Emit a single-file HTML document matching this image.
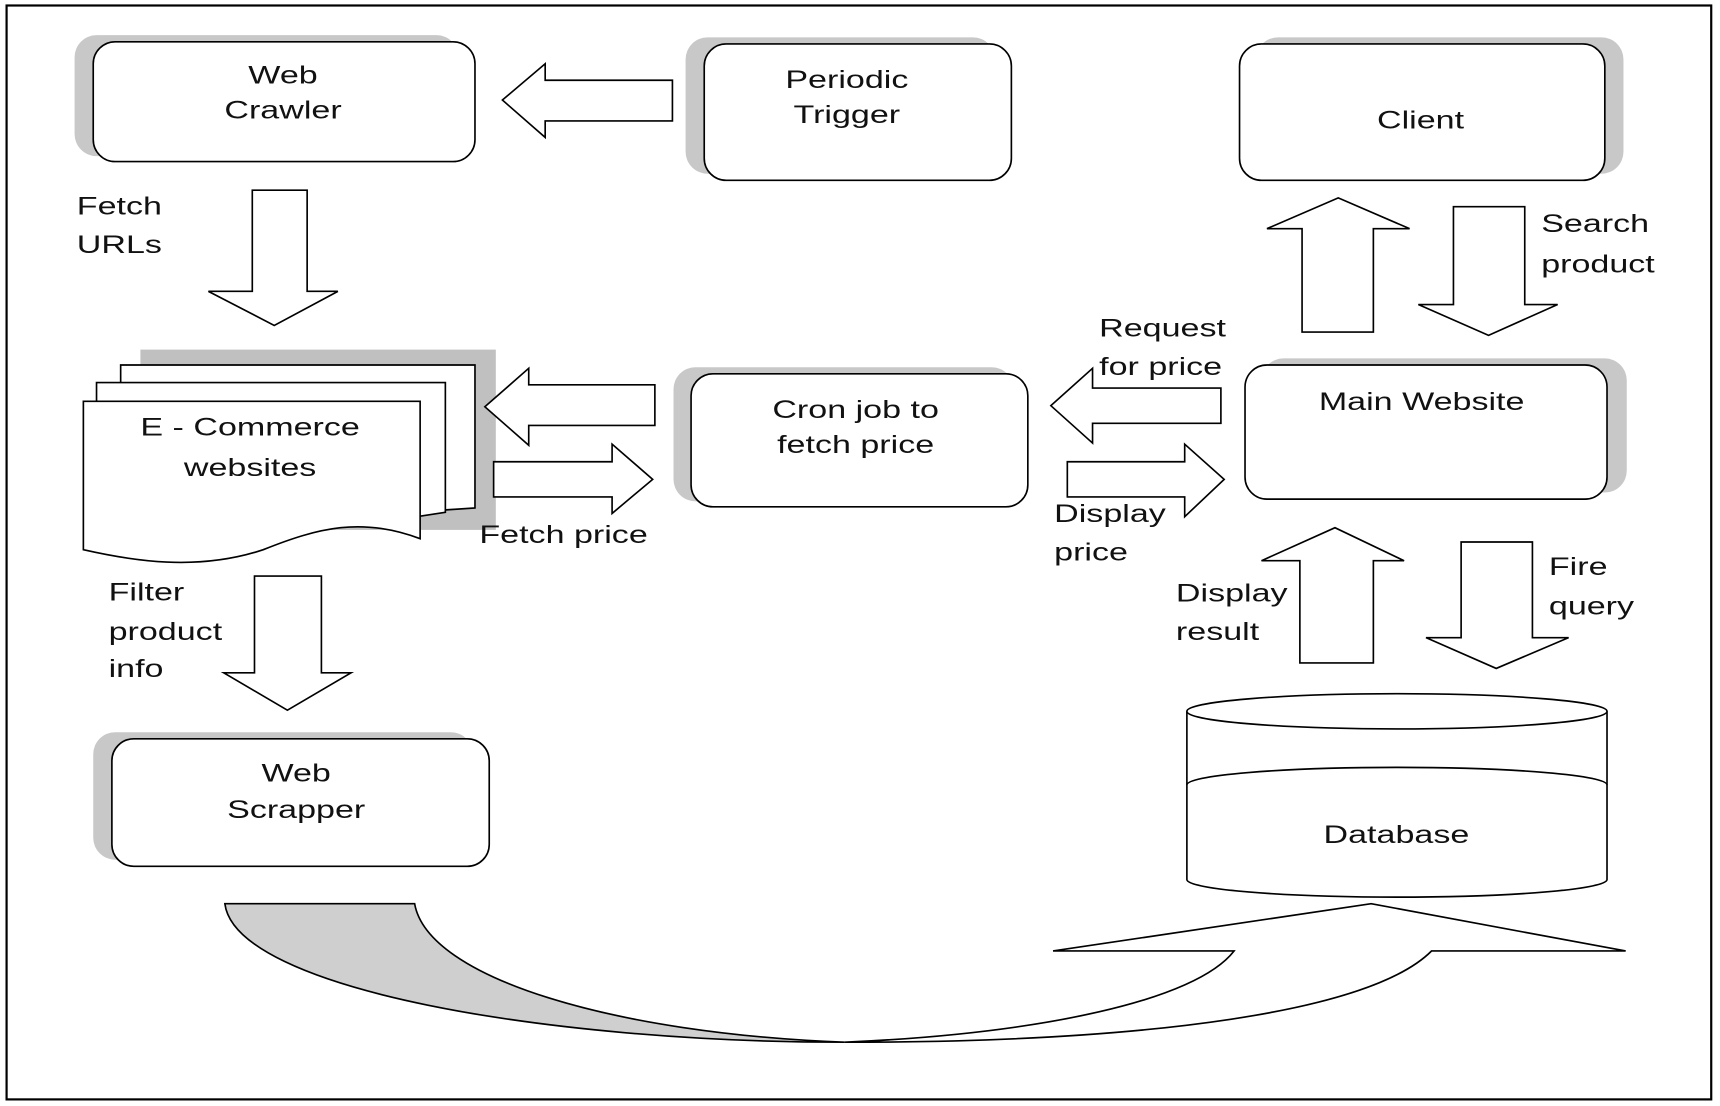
<!DOCTYPE html>
<html><head><meta charset="utf-8"><style>
html,body{margin:0;padding:0;background:#fff}
svg{display:block}
text{font-family:"Liberation Sans",sans-serif;font-size:23px;fill:#111}
</style></head><body>
<svg width="1720" height="1106" viewBox="0 0 1568 1006" preserveAspectRatio="none" xmlns="http://www.w3.org/2000/svg">
<rect x="6" y="5" width="1554" height="995" fill="#fff" stroke="#000" stroke-width="2"/>
<g stroke="#000" stroke-width="1.5" fill="#fff">
<rect x="68" y="32" width="350" height="110" rx="20" fill="#c8c8c8" stroke="none"/>
<rect x="625" y="34" width="282" height="124" rx="20" fill="#c8c8c8" stroke="none"/>
<rect x="1145" y="34" width="335" height="124" rx="20" fill="#c8c8c8" stroke="none"/>
<rect x="614" y="334" width="310" height="122" rx="20" fill="#c8c8c8" stroke="none"/>
<rect x="1150" y="326" width="333" height="122" rx="20" fill="#c8c8c8" stroke="none"/>
<rect x="85" y="666" width="346" height="116" rx="20" fill="#c8c8c8" stroke="none"/>
<rect x="128" y="318" width="324" height="164" fill="#c0c0c0" stroke="none"/>
<rect x="85" y="38" width="348" height="109" rx="20"/>
<rect x="642" y="40" width="280" height="124" rx="20"/>
<rect x="1130" y="40" width="333" height="124" rx="20"/>
<rect x="630" y="340" width="307" height="121" rx="20"/>
<rect x="1135" y="332" width="330" height="122" rx="20"/>
<rect x="102" y="672" width="344" height="116" rx="20"/>
<path d="M110,332 L433,332 L433,462 L403,464 L110,466 Z"/>
<path d="M88,348 L406,348 L406,466 L380,470 L88,472 Z"/>
<path d="M76,365 L383,365 L383,490 C330,470 290,480 240,500 C180,520 120,510 76,500 Z"/>
<path d="M613,73 L497,73 L497,58 L458,91 L497,125 L497,110 L613,110 Z"/>
<path d="M230,173 L280,173 L280,265 L308,265 L250,296 L190,265 L230,265 Z"/>
<path d="M597,350 L482,350 L482,335 L442,370 L482,405 L482,387 L597,387 Z"/>
<path d="M450,420 L558,420 L558,404 L595,436 L558,467 L558,452 L450,452 Z"/>
<path d="M1113,353 L996,353 L996,335 L958,369 L996,403 L996,385 L1113,385 Z"/>
<path d="M973,420 L1080,420 L1080,404 L1116,436 L1080,470 L1080,452 L973,452 Z"/>
<path d="M1187,302 L1187,208 L1155,208 L1220,180 L1285,208 L1252,208 L1252,302 Z"/>
<path d="M1325,188 L1390,188 L1390,277 L1420,277 L1357,305 L1293,277 L1325,277 Z"/>
<path d="M1185,603 L1185,510 L1150,510 L1217,480 L1280,510 L1252,510 L1252,603 Z"/>
<path d="M1332,493 L1397,493 L1397,580 L1430,580 L1364,608 L1300,580 L1332,580 Z"/>
<path d="M232,524 L293,524 L293,612 L320,612 L262,646 L204,612 L232,612 Z"/>
<path d="M1082,647 L1082,800 A191.5,16 0 0 0 1465,800 L1465,647"/>
<ellipse cx="1273.5" cy="647" rx="191.5" ry="16"/>
<path d="M1082,714 A191.5,16 0 0 1 1465,714"/>
<path d="M205,822 L378,822 C390,890 560,940 770,948 C500,948 215,900 205,822 Z" fill="#cfcfcf"/>
<path d="M770,948 C950,940 1090,910 1125,865 L960,865 L1250,822 L1482,865 L1305,865 C1250,920 1050,948 770,948 Z"/>
</g>
<g>
<text transform="translate(258,76) scale(1.35,1)" text-anchor="middle">Web</text>
<text transform="translate(258,108) scale(1.35,1)" text-anchor="middle">Crawler</text>
<text transform="translate(772,80) scale(1.35,1)" text-anchor="middle">Periodic</text>
<text transform="translate(772,112) scale(1.35,1)" text-anchor="middle">Trigger</text>
<text transform="translate(1295,117) scale(1.35,1)" text-anchor="middle">Client</text>
<text transform="translate(70,195) scale(1.35,1)">Fetch</text>
<text transform="translate(70,230) scale(1.35,1)">URLs</text>
<text transform="translate(1405,211) scale(1.35,1)">Search</text>
<text transform="translate(1405,248) scale(1.35,1)">product</text>
<text transform="translate(1002,306) scale(1.35,1)">Request</text>
<text transform="translate(1002,341) scale(1.35,1)">for price</text>
<text transform="translate(1296,373) scale(1.35,1)" text-anchor="middle">Main Website</text>
<text transform="translate(780,380) scale(1.35,1)" text-anchor="middle">Cron job to</text>
<text transform="translate(780,412) scale(1.35,1)" text-anchor="middle">fetch price</text>
<text transform="translate(228,396) scale(1.35,1)" text-anchor="middle">E - Commerce</text>
<text transform="translate(228,433) scale(1.35,1)" text-anchor="middle">websites</text>
<text transform="translate(437,494) scale(1.35,1)">Fetch price</text>
<text transform="translate(961,475) scale(1.35,1)">Display</text>
<text transform="translate(961,510) scale(1.35,1)">price</text>
<text transform="translate(99,546) scale(1.35,1)">Filter</text>
<text transform="translate(99,582) scale(1.35,1)">product</text>
<text transform="translate(99,616) scale(1.35,1)">info</text>
<text transform="translate(1072,547) scale(1.35,1)">Display</text>
<text transform="translate(1072,582) scale(1.35,1)">result</text>
<text transform="translate(1412,523) scale(1.35,1)">Fire</text>
<text transform="translate(1412,559) scale(1.35,1)">query</text>
<text transform="translate(270,711) scale(1.35,1)" text-anchor="middle">Web</text>
<text transform="translate(270,744) scale(1.35,1)" text-anchor="middle">Scrapper</text>
<text transform="translate(1273,767) scale(1.35,1)" text-anchor="middle">Database</text>
</g>
</svg>
</body></html>
